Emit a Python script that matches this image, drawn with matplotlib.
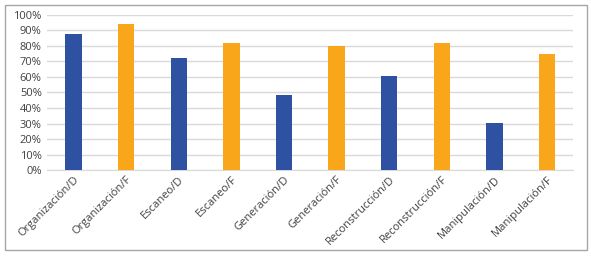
import matplotlib
matplotlib.use("Agg")
import matplotlib.pyplot as plt
from matplotlib.patches import Rectangle
from matplotlib.ticker import PercentFormatter

# --- Дані ---
categories = ["Organización/D", "Organización/F", "Escaneo/D", "Escaneo/F",
              "Generación/D", "Generación/F", "Reconstrucción/D", "Reconstrucción/F",
              "Manipulación/D", "Manipulación/F"]
values = [88, 94, 72, 82, 48.5, 80, 60.5, 82, 30.5, 75]
colors = ["#2E51A2", "#FAA61A"] * 5

plt.rcParams['font.family'] = ['Open Sans', 'DejaVu Sans']

fig = plt.figure(figsize=(5.91, 2.58), dpi=100)
ax = fig.add_axes([0.08, 0.341, 0.89, 0.601])

x = range(len(categories))
ax.bar(x, values, width=0.31, color=colors, zorder=3)

ax.set_ylim(0, 100)
ax.set_yticks(range(0, 101, 10))
ax.yaxis.set_major_formatter(PercentFormatter(decimals=0))
ax.set_xlim(-0.5, len(categories) - 0.5)
ax.set_xticks(list(x))
ax.set_xticklabels(categories, rotation=45, ha='right', rotation_mode='anchor')

ax.grid(axis='y', color='#D9D9D9', linewidth=1, zorder=0)
for s in ['top', 'right', 'left']:
    ax.spines[s].set_visible(False)
ax.spines['bottom'].set_color('#D9D9D9')
ax.tick_params(axis='both', length=0, labelsize=8, colors='#404040')
ax.tick_params(axis='y', pad=4)
ax.tick_params(axis='x', pad=3)

# рамка навколо всього малюнка
fig.patches.append(Rectangle((0.009, 0.03), 0.984, 0.95, transform=fig.transFigure,
                             fill=False, edgecolor='#A6A6A6', linewidth=1))

fig.savefig("out.png", dpi=100)
